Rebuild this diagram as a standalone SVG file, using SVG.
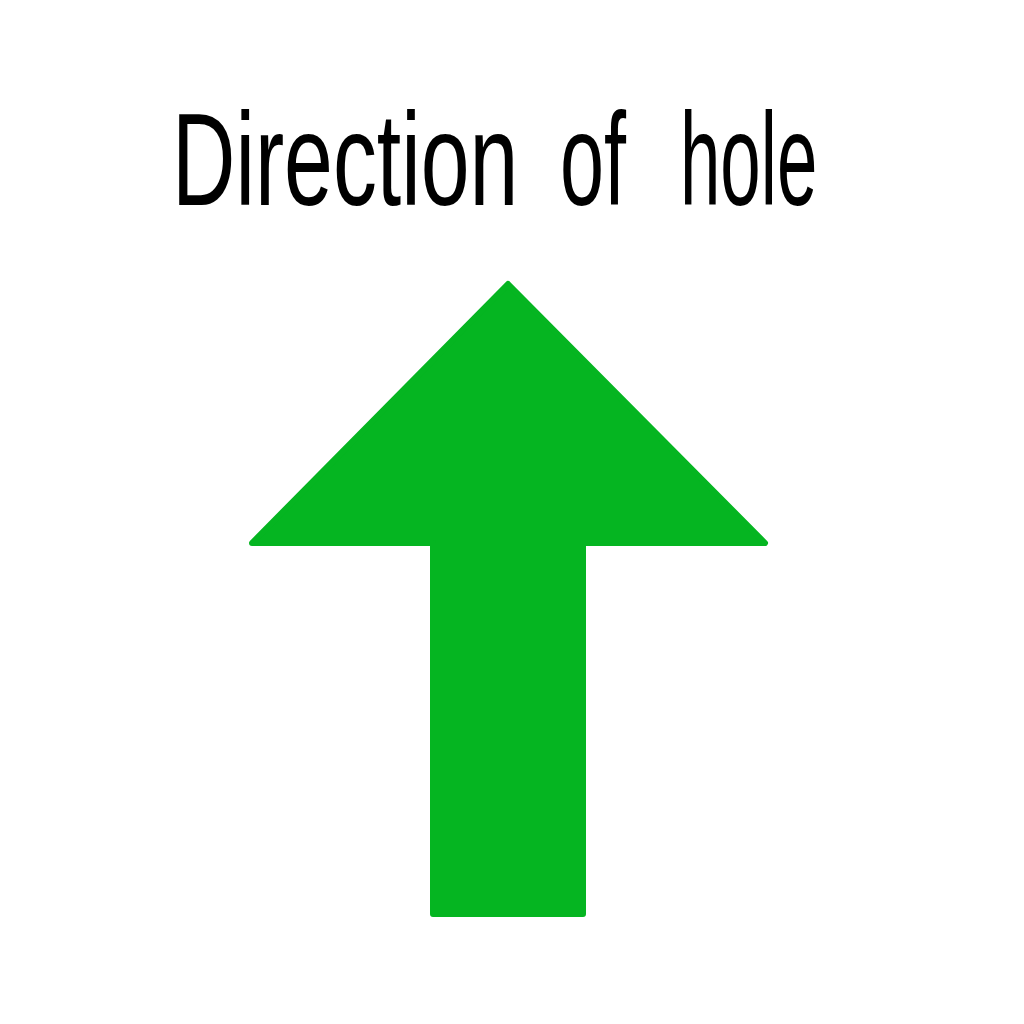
<svg xmlns="http://www.w3.org/2000/svg" width="1024" height="1024" viewBox="0 0 1024 1024">
  <style>
    .title { font-family: "Liberation Sans", "DejaVu Sans", sans-serif; font-size: 132px; fill: #000; }
    .arrow { fill: #05B521; stroke: #05B521; stroke-width: 6; stroke-linejoin: round; }
  </style>
  <rect width="1024" height="1024" fill="#ffffff"/>
  <g id="label">
    <text class="title" transform="translate(172,205) scale(0.665,1)" x="0" y="0">Direction</text>
    <text class="title" transform="translate(560,205) scale(0.6,1)" x="0" y="0">of</text>
    <text class="title" transform="translate(680,205) scale(0.55,1)" x="0" y="0">hole</text>
  </g>
  <g id="arrow">
    <path class="arrow" d="M508,284 L765,543 L583,543 L583,914 L433,914 L433,543 L252,543 Z"/>
  </g>
</svg>
